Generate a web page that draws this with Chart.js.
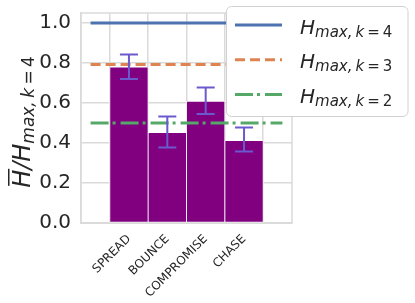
<!DOCTYPE html>
<html>
<head>
<meta charset="utf-8">
<script src="https://cdn.jsdelivr.net/npm/chart.js@4"></script>
<style>
  html, body { margin: 0; padding: 0; background: #fff; }
  #wrap { width: 415px; height: 303px; }
</style>
</head>
<body>
<div id="wrap"><canvas id="chart" width="415" height="303"></canvas></div>
<script>
// Normalised mean entropy per strategy, with error bar bounds
const categories = ['SPREAD', 'BOUNCE', 'COMPROMISE', 'CHASE'];
const meanRatio = [0.78, 0.452, 0.608, 0.412];
const errLow = [0.72, 0.378, 0.545, 0.358];
const errHigh = [0.843, 0.532, 0.678, 0.477];

// Reference lines H_max,k / H_max,k=4 = log(k)/log(4)
const hmaxK = [4, 3, 2];
const hmaxValues = [1.0, 0.7925, 0.5];
const hmaxColors = ['#4c72b0', '#dd8452', '#55a868'];
const hmaxDash = [[], [10, 5], [18, 4, 3, 5]];
const lineSpan = [-1, 4];

const yTicks = [0, 0.2, 0.4, 0.6, 0.8, 1.0];

const FONT = "'DejaVu Sans', sans-serif";
const TEXT = '#262626';
const GRID = '#dadada';

// draw a run of text pieces, returns the advance width
function drawPieces(ctx, pieces, x, y) {
    let cx = x;
    pieces.forEach(p => {
        ctx.font = (p.italic ? 'italic ' : '') + p.size + 'px ' + FONT;
        ctx.fillText(p.t, cx, y + (p.dy || 0));
        cx += ctx.measureText(p.t).width;
    });
    return cx - x;
}
function measurePieces(ctx, pieces) {
    let w = 0;
    pieces.forEach(p => {
        ctx.font = (p.italic ? 'italic ' : '') + p.size + 'px ' + FONT;
        w += ctx.measureText(p.t).width;
    });
    return w;
}
function subPieces(k, size, dy) {
    return [
        { t: 'max,\u2009', size: size, italic: true, dy: dy },
        { t: 'k', size: size, italic: true, dy: dy },
        { t: '\u2009=\u2009' + k, size: size, italic: false, dy: dy }
    ];
}

const extrasPlugin = {
    id: 'extras',
    beforeDatasetsDraw(chart) {
        // frame on all four sides
        const { ctx, chartArea: a } = chart;
        ctx.save();
        ctx.strokeStyle = GRID;
        ctx.lineWidth = 1.5;
        ctx.strokeRect(a.left, a.top, a.right - a.left, a.bottom - a.top);
        ctx.restore();
    },
    afterDatasetsDraw(chart) {
        const { ctx } = chart;
        const y = chart.scales.y;
        const meta = chart.getDatasetMeta(0);
        ctx.save();
        ctx.strokeStyle = '#6a5acd';
        ctx.lineWidth = 2;
        meta.data.forEach((bar, i) => {
            const x = bar.x;
            const yl = y.getPixelForValue(errLow[i]);
            const yh = y.getPixelForValue(errHigh[i]);
            ctx.beginPath();
            ctx.moveTo(x, yl); ctx.lineTo(x, yh);
            ctx.moveTo(x - 9, yl); ctx.lineTo(x + 9, yl);
            ctx.moveTo(x - 9, yh); ctx.lineTo(x + 9, yh);
            ctx.stroke();
        });
        ctx.restore();
    },
    afterDraw(chart) {
        const { ctx, chartArea: a } = chart;
        ctx.save();
        ctx.fillStyle = TEXT;
        ctx.textBaseline = 'alphabetic';

        // y axis title:  H̄ / H_{max, k=4}
        const main = [
            { t: 'H', size: 24, italic: true },
            { t: '/', size: 24, italic: true },
            { t: 'H', size: 24, italic: true }
        ].concat(subPieces(4, 17, 4));
        const total = measurePieces(ctx, main);
        ctx.translate(29.5, (a.top + a.bottom) / 2 + 4);
        ctx.rotate(-Math.PI / 2);
        const x0 = -total / 2;
        drawPieces(ctx, main, x0, 0);
        ctx.font = 'italic 24px ' + FONT;
        const hw = ctx.measureText('H').width;
        ctx.fillRect(x0 + 2, -21.5, hw - 1, 1.5);
        ctx.restore();

        // legend box
        const lx = 226.5, ly = 6.5, lw = 181.5, lh = 110;
        ctx.save();
        ctx.beginPath();
        ctx.roundRect(lx, ly, lw, lh, 5);
        ctx.fillStyle = '#ffffff';
        ctx.fill();
        ctx.strokeStyle = '#d0d0d0';
        ctx.lineWidth = 1;
        ctx.stroke();
        hmaxK.forEach((k, i) => {
            const cy = 25 + i * 34.7;
            ctx.strokeStyle = hmaxColors[i];
            ctx.lineWidth = 3;
            ctx.setLineDash(hmaxDash[i]);
            ctx.beginPath();
            ctx.moveTo(235, cy); ctx.lineTo(282, cy);
            ctx.stroke();
            ctx.setLineDash([]);
            ctx.fillStyle = TEXT;
            drawPieces(ctx, [{ t: 'H', size: 20, italic: true }].concat(subPieces(k, 15, 3)), 300, cy + 8.5);
        });
        ctx.restore();
    }
};

const lineDatasets = hmaxValues.map((v, i) => ({
    type: 'line',
    label: 'H_max,k=' + hmaxK[i],
    data: lineSpan.map(x => ({ x: x, y: v })),
    borderColor: hmaxColors[i],
    borderWidth: 3,
    borderDash: hmaxDash[i],
    pointRadius: 0,
    fill: false,
    order: 1
}));

new Chart(document.getElementById('chart'), {
    type: 'bar',
    data: {
        datasets: [{
            type: 'bar',
            label: 'mean',
            data: meanRatio.map((v, i) => ({ x: i, y: v })),
            backgroundColor: '#800080',
            borderColor: '#ffffff',
            borderWidth: 0.8,
            borderSkipped: false,
            barPercentage: 1,
            categoryPercentage: 1,
            order: 2
        }].concat(lineDatasets)
    },
    options: {
        responsive: false,
        animation: false,
        layout: { padding: { left: 0, top: 13, right: 123, bottom: 0 } },
        plugins: {
            legend: { display: false },
            tooltip: { enabled: false }
        },
        scales: {
            x: {
                type: 'linear',
                min: -1.25,
                max: 4.25,
                offset: false,
                afterBuildTicks: scale => {
                    scale.ticks = categories.map((c, i) => ({ value: i }));
                },
                afterFit: scale => {
                    scale.height = 80;
                    scale.paddingLeft = 0;
                    scale.paddingRight = 0;
                },
                grid: { color: GRID, lineWidth: 1.5, drawTicks: false },
                border: { display: true, color: GRID, width: 1.5 },
                ticks: {
                    autoSkip: false,
                    maxRotation: 45,
                    minRotation: 45,
                    padding: 9,
                    color: TEXT,
                    font: { family: FONT, size: 12 },
                    callback: v => categories[v]
                }
            },
            y: {
                min: 0,
                max: 1.05,
                afterBuildTicks: scale => {
                    scale.ticks = yTicks.map(v => ({ value: v }));
                },
                afterFit: scale => {
                    scale.width = 81;
                    scale.paddingTop = 0;
                    scale.paddingBottom = 0;
                },
                grid: { color: GRID, lineWidth: 1.5, drawTicks: false },
                border: { display: true, color: GRID, width: 1.5 },
                ticks: {
                    padding: 10,
                    color: TEXT,
                    font: { family: FONT, size: 20 },
                    callback: v => v.toFixed(1)
                }
            }
        }
    },
    plugins: [extrasPlugin]
});
</script>
</body>
</html>
